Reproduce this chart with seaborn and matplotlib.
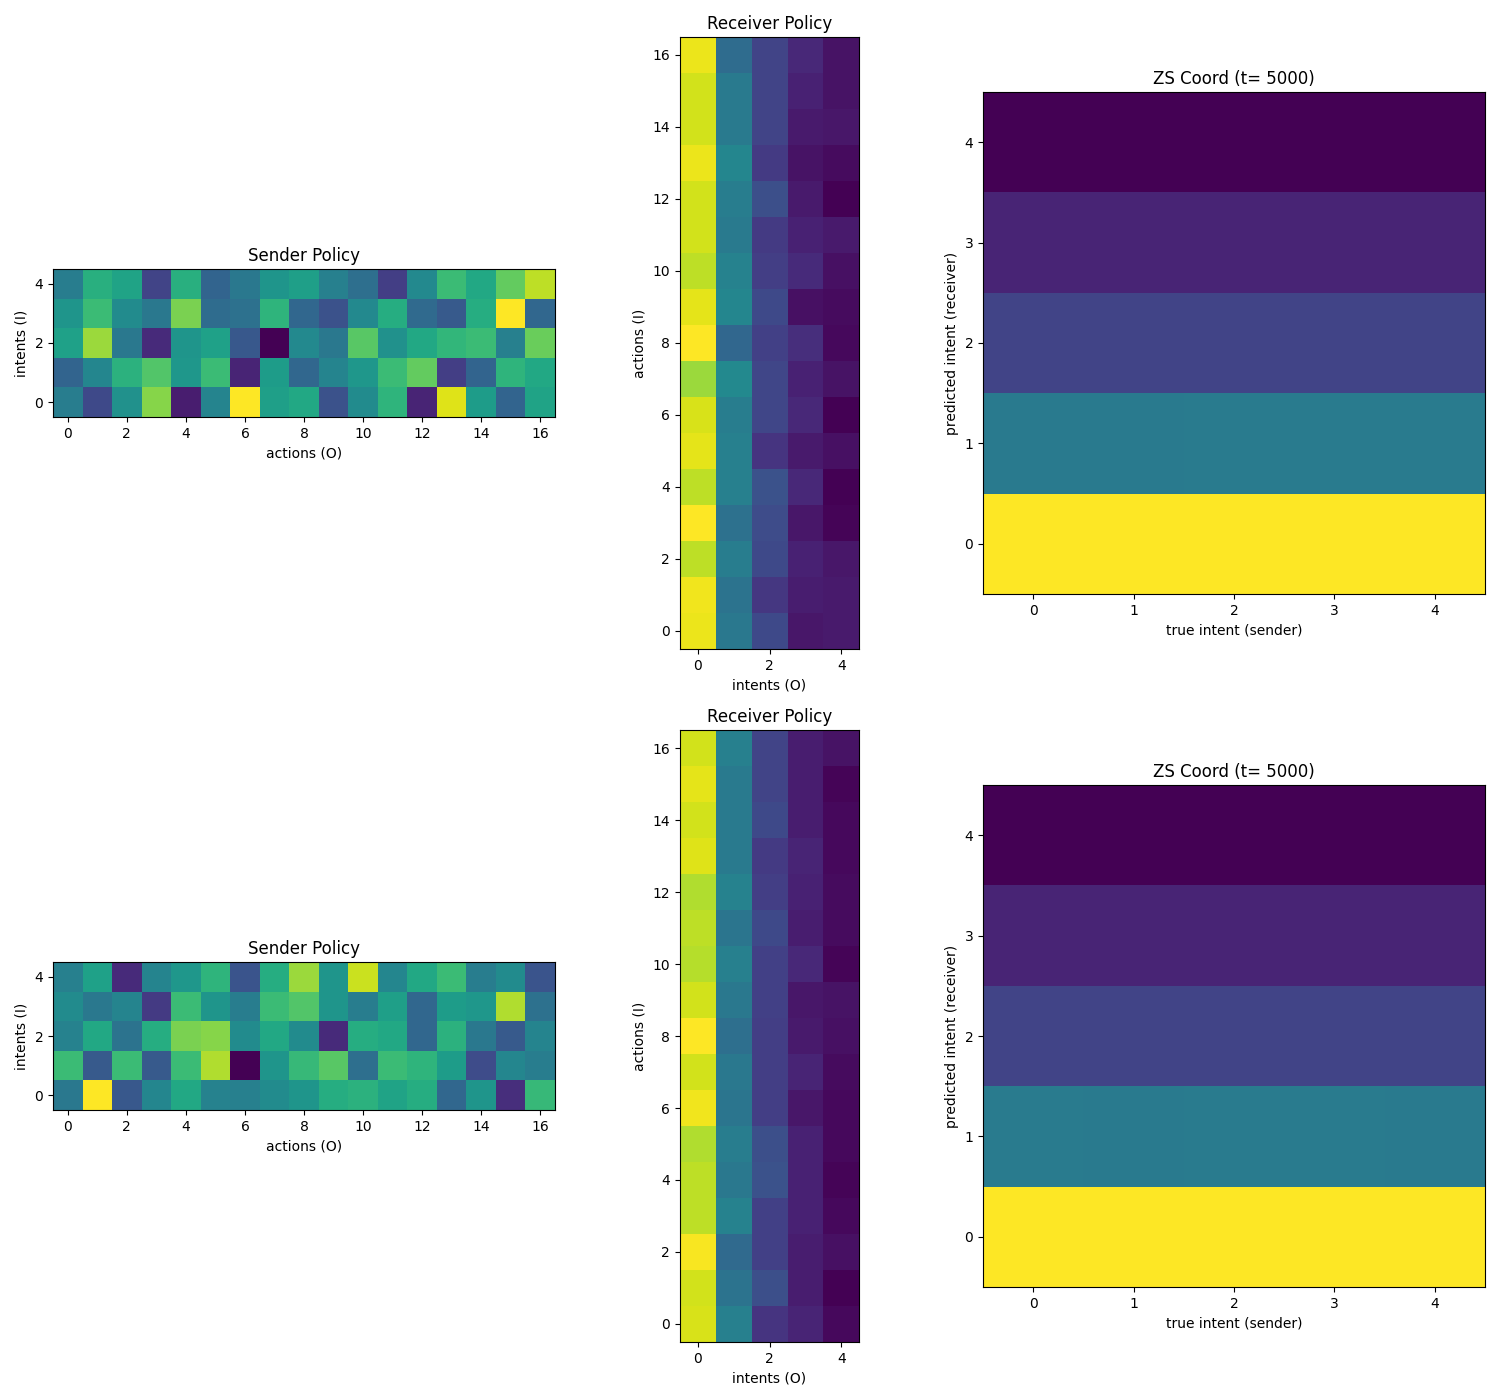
import numpy as np
import matplotlib
matplotlib.use('Agg')
import matplotlib.pyplot as plt
import seaborn as sns

# sender policy: rows = intents 0..4, cols = actions 0..16
sender_top = [
    [0.42, 0.22, 0.50, 0.82, 0.08, 0.45, 1.00, 0.56, 0.60, 0.25, 0.48, 0.65, 0.10, 0.95, 0.55, 0.32, 0.58],
    [0.32, 0.46, 0.64, 0.73, 0.53, 0.68, 0.10, 0.55, 0.33, 0.45, 0.53, 0.68, 0.76, 0.18, 0.32, 0.65, 0.60],
    [0.57, 0.85, 0.40, 0.12, 0.52, 0.57, 0.27, 0.00, 0.47, 0.40, 0.74, 0.50, 0.60, 0.66, 0.68, 0.43, 0.77],
    [0.52, 0.68, 0.48, 0.40, 0.80, 0.35, 0.37, 0.65, 0.33, 0.25, 0.47, 0.62, 0.34, 0.28, 0.62, 1.00, 0.33],
    [0.42, 0.63, 0.58, 0.20, 0.63, 0.32, 0.40, 0.52, 0.56, 0.43, 0.36, 0.18, 0.47, 0.68, 0.60, 0.76, 0.90],
]
sender_bottom = [
    [0.40, 1.00, 0.27, 0.46, 0.60, 0.44, 0.43, 0.48, 0.52, 0.62, 0.64, 0.58, 0.62, 0.33, 0.52, 0.13, 0.67],
    [0.68, 0.28, 0.68, 0.28, 0.68, 0.88, 0.00, 0.52, 0.67, 0.74, 0.36, 0.68, 0.65, 0.55, 0.23, 0.46, 0.42],
    [0.44, 0.60, 0.38, 0.62, 0.80, 0.82, 0.48, 0.60, 0.48, 0.12, 0.62, 0.60, 0.33, 0.64, 0.40, 0.28, 0.45],
    [0.48, 0.40, 0.45, 0.17, 0.68, 0.52, 0.42, 0.68, 0.73, 0.52, 0.42, 0.56, 0.33, 0.55, 0.53, 0.88, 0.37],
    [0.43, 0.57, 0.12, 0.45, 0.53, 0.65, 0.26, 0.62, 0.85, 0.52, 0.92, 0.46, 0.60, 0.68, 0.42, 0.48, 0.26],
]

# receiver policy: rows = actions 0..16, cols = intents 0..4
receiver_top = [
    [0.97, 0.40, 0.22, 0.06, 0.07],
    [0.98, 0.38, 0.16, 0.08, 0.07],
    [0.90, 0.42, 0.22, 0.09, 0.06],
    [1.00, 0.37, 0.23, 0.06, 0.01],
    [0.90, 0.43, 0.25, 0.11, 0.00],
    [0.96, 0.43, 0.15, 0.07, 0.04],
    [0.94, 0.42, 0.21, 0.11, 0.00],
    [0.85, 0.47, 0.21, 0.09, 0.05],
    [1.00, 0.33, 0.19, 0.13, 0.02],
    [0.96, 0.46, 0.22, 0.04, 0.03],
    [0.90, 0.44, 0.18, 0.12, 0.04],
    [0.93, 0.41, 0.17, 0.09, 0.07],
    [0.93, 0.42, 0.24, 0.07, 0.00],
    [0.97, 0.46, 0.17, 0.05, 0.03],
    [0.93, 0.41, 0.20, 0.07, 0.06],
    [0.93, 0.41, 0.20, 0.09, 0.05],
    [0.97, 0.35, 0.20, 0.11, 0.05],
]
receiver_bottom = [
    [0.94, 0.43, 0.15, 0.10, 0.02],
    [0.93, 0.38, 0.24, 0.08, 0.00],
    [0.99, 0.34, 0.19, 0.08, 0.04],
    [0.90, 0.44, 0.19, 0.09, 0.02],
    [0.90, 0.40, 0.25, 0.09, 0.01],
    [0.88, 0.42, 0.24, 0.09, 0.02],
    [0.98, 0.39, 0.18, 0.06, 0.02],
    [0.93, 0.40, 0.18, 0.10, 0.03],
    [1.00, 0.36, 0.18, 0.07, 0.04],
    [0.93, 0.40, 0.19, 0.06, 0.05],
    [0.89, 0.43, 0.19, 0.11, 0.01],
    [0.90, 0.39, 0.22, 0.08, 0.03],
    [0.88, 0.44, 0.18, 0.09, 0.03],
    [0.95, 0.41, 0.17, 0.10, 0.02],
    [0.93, 0.41, 0.22, 0.08, 0.02],
    [0.96, 0.41, 0.20, 0.08, 0.01],
    [0.93, 0.43, 0.20, 0.08, 0.05],
]

# zero-shot coordination: rows = predicted intent 0..4, cols = true intent 0..4
zs_top = [
    [1.000, 1.000, 1.000, 1.000, 1.000],
    [0.410, 0.410, 0.412, 0.414, 0.412],
    [0.200, 0.200, 0.201, 0.200, 0.200],
    [0.100, 0.100, 0.100, 0.101, 0.100],
    [0.000, 0.000, 0.000, 0.000, 0.000],
]
zs_bottom = [
    [1.000, 1.000, 1.000, 1.000, 1.000],
    [0.413, 0.410, 0.411, 0.412, 0.410],
    [0.200, 0.200, 0.200, 0.200, 0.200],
    [0.100, 0.100, 0.100, 0.100, 0.100],
    [0.000, 0.000, 0.000, 0.000, 0.000],
]


def draw(ax, data, title, xlabel, ylabel, step):
    arr = np.array(data)
    sns.heatmap(arr, ax=ax, cmap='viridis', cbar=False, square=True,
                xticklabels=False, yticklabels=False)
    ax.invert_yaxis()
    nr, nc = arr.shape
    xt = list(range(0, nc, step))
    yt = list(range(0, nr, step))
    ax.set_xticks([v + 0.5 for v in xt])
    ax.set_xticklabels([str(v) for v in xt], rotation=0)
    ax.set_yticks([v + 0.5 for v in yt])
    ax.set_yticklabels([str(v) for v in yt], rotation=0)
    for s in ax.spines.values():
        s.set_visible(True)
        s.set_color('black')
        s.set_linewidth(0.8)
    ax.tick_params(length=3.5, width=0.8, labelsize=10)
    ax.set_title(title, fontsize=12)
    ax.set_xlabel(xlabel, fontsize=10)
    ax.set_ylabel(ylabel, fontsize=10)


fig = plt.figure(figsize=(15, 14), dpi=100)
shift = 693 / 1400
rows = [(sender_top, receiver_top, zs_top), (sender_bottom, receiver_bottom, zs_bottom)]
for i, (snd, rcv, zs) in enumerate(rows):
    d = i * shift
    ax1 = fig.add_axes([53 / 1500, 1 - 417 / 1400 - d, 502 / 1500, 148 / 1400])
    ax2 = fig.add_axes([679.5 / 1500, 1 - 649 / 1400 - d, 180 / 1500, 612 / 1400])
    ax3 = fig.add_axes([983 / 1500, 1 - 594 / 1400 - d, 502 / 1500, 502 / 1400])
    draw(ax1, snd, 'Sender Policy', 'actions (O)', 'intents (I)', 2)
    draw(ax2, rcv, 'Receiver Policy', 'intents (O)', 'actions (I)', 2)
    draw(ax3, zs, 'ZS Coord (t= 5000)', 'true intent (sender)', 'predicted intent (receiver)', 1)

fig.savefig('out.png', dpi=100)
